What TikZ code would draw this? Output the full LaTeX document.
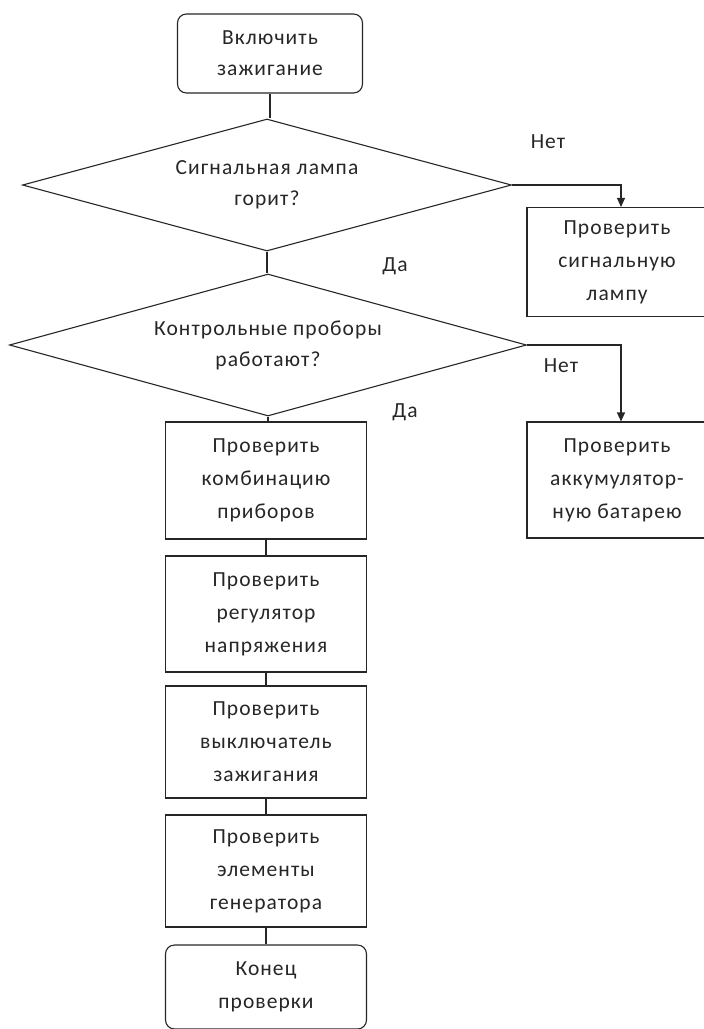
\documentclass[tikz,border=0pt]{standalone}
\usepackage{fontspec}
\setmainfont{Carlito}[LetterSpace=5]
\usetikzlibrary{shapes.geometric,arrows.meta}
\begin{document}
\begin{tikzpicture}[x=1pt,y=-1pt,
  line/.style={draw=black!85,line width=1.1pt},
  txt/.style={font=\fontsize{21.5}{33}\selectfont,align=center,text=black!85},
  procbox/.style={line,txt,rectangle,inner sep=0pt},
  termbox/.style={procbox,rounded corners=9pt},
  decbox/.style={line,txt,diamond,inner sep=0pt,font=\fontsize{21.5}{31}\selectfont},
  lbl/.style={txt,inner sep=0pt},
  arr/.style={line,-{Triangle[length=9pt,width=8pt]}}]
\useasboundingbox (0,0) rectangle (704,1029);
\node[termbox,minimum width=185,minimum height=79,font=\fontsize{21.5}{31}\selectfont] (start) at (270,53.5) {Включить\\зажигание};
\node[decbox,shape aspect=3.7,minimum width=489,minimum height=132] (d1) at (267,185) {Сигнальная лампа\\горит?};
\node[decbox,shape aspect=3.64,minimum width=517,minimum height=142] (d2) at (268,345) {Контрольные проборы\\работают?};
\node[procbox,minimum width=180,minimum height=109] (r1) at (617,262) {Проверить\\сигнальную\\лампу};
\node[procbox,minimum width=180,minimum height=116] (r2) at (617,480) {Проверить\\аккумулятор-\\ную батарею};
\node[procbox,minimum width=201,minimum height=117] (c1) at (266,480.5) {Проверить\\комбинацию\\приборов};
\node[procbox,minimum width=201,minimum height=116] (c2) at (266,614) {Проверить\\регулятор\\напряжения};
\node[procbox,minimum width=201,minimum height=112] (c3) at (266,742) {Проверить\\выключатель\\зажигания};
\node[procbox,minimum width=201,minimum height=112] (c4) at (266,871) {Проверить\\элементы\\генератора};
\node[termbox,minimum width=201,minimum height=84] (end) at (266,987) {Конец\\проверки};
\node[lbl] (n1) at (548,142) {Нет};
\node[lbl] (y1) at (395,266) {Да};
\node[lbl] (n2) at (561,366) {Нет};
\node[lbl] (y2) at (405,412) {Да};
\draw[line] (start.south) -- (start.south |- d1.north);
\draw[line] (d1.south) -- (d1.south |- d2.north);
\draw[line] (d2.south) -- (d2.south |- c1.north);
\draw[line] (c1) -- (c2);
\draw[line] (c2) -- (c3);
\draw[line] (c3) -- (c4);
\draw[line] (c4) -- (end);
\draw[arr] (d1.east) -| ([xshift=4pt]r1.north);
\draw[arr] (d2.east) -| ([xshift=4pt]r2.north);
\end{tikzpicture}
\end{document}
